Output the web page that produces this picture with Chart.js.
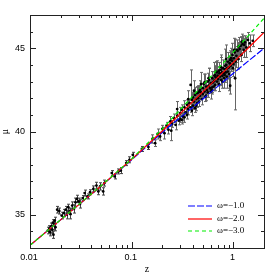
<!DOCTYPE html>
<html>
<head>
<meta charset="utf-8">
<script src="https://cdn.jsdelivr.net/npm/chart.js@4.4.0/dist/chart.umd.min.js"></script>
<style>
  html, body { margin: 0; padding: 0; background: #fff; }
</style>
</head>
<body>
<canvas id="hubble" width="279" height="279"></canvas>
<script>
// model curves
var zModel = [0.01, 0.02, 0.05, 0.1, 0.2, 0.5, 1, 1.5, 2];
var muW1 = [33.16, 34.69, 36.72, 38.30, 39.95, 41.95, 43.50, 44.38, 45.00];
var muW2 = [33.16, 34.69, 36.73, 38.33, 40.03, 42.38, 44.15, 45.20, 45.96];
var muW3 = [33.16, 34.70, 36.74, 38.35, 40.16, 42.78, 44.78, 45.95, 46.80];
var modelLabels = ['\u03c9=\u22121.0', '\u03c9=\u22122.0', '\u03c9=\u22123.0'];

// supernovae: redshift, distance modulus, error
var snZ = [
  0.0150, 0.0155, 0.0158, 0.0162, 0.0165, 0.0168, 0.0170, 0.0172, 0.0175, 0.0178,
  0.0185, 0.0194, 0.0205, 0.0215, 0.0225, 0.0230, 0.0238, 0.0245, 0.0250, 0.0260,
  0.0270, 0.0280, 0.0290, 0.0300, 0.0310, 0.0330, 0.0345, 0.0368, 0.0390, 0.0420,
  0.0450, 0.0470, 0.0489, 0.0524, 0.0540, 0.0637, 0.0680, 0.0741, 0.0780, 0.0884,
  0.0950, 0.1026, 0.1260, 0.1460,
  0.16, 0.17, 0.18, 0.19, 0.20, 0.21, 0.22, 0.23, 0.24, 0.245,
  0.25, 0.26, 0.27, 0.28, 0.29, 0.30, 0.30, 0.31, 0.32, 0.33,
  0.34, 0.35, 0.35, 0.36, 0.38, 0.37, 0.38, 0.39, 0.40, 0.40,
  0.41, 0.42, 0.42, 0.43, 0.44, 0.45, 0.45, 0.46, 0.47, 0.47,
  0.48, 0.49, 0.50, 0.50, 0.51, 0.52, 0.53, 0.54, 0.55, 0.56,
  0.56, 0.57, 0.58, 0.59, 0.60, 0.61, 0.62, 0.63, 0.64, 0.65,
  0.65, 0.66, 0.67, 0.68, 0.69, 0.70, 0.71, 0.72, 0.73, 0.74,
  0.75, 0.76, 0.77, 0.78, 0.79, 0.80, 0.81, 0.82, 0.83, 0.84,
  0.85, 0.86, 0.87, 0.88, 0.90, 0.91, 0.92, 0.93, 0.94, 0.95,
  0.97, 0.98, 1.00, 1.01, 1.03, 1.04, 1.05, 1.07, 1.10, 1.12,
  1.15, 1.18, 1.20, 1.23, 1.26, 1.30, 1.34, 1.39, 1.45, 1.55,
  0.28, 0.33, 0.36, 0.41, 0.43, 0.46, 0.48, 0.52, 0.54, 0.57,
  0.60, 0.62, 0.66, 0.69, 0.72, 0.76, 0.78, 0.82, 0.85, 0.88,
  0.93, 0.99, 1.02, 1.08, 1.13, 1.21, 1.28, 0.31, 0.39, 0.44
];
var snMu = [
  34.05, 34.16, 33.95, 34.30, 34.10, 34.52, 33.80, 34.40, 34.65, 34.25,
  35.30, 35.22, 34.95, 35.10, 35.30, 35.00, 35.45, 35.20, 35.05, 35.55,
  35.35, 35.75, 35.95, 35.80, 35.65, 36.00, 36.30, 36.10, 36.35, 36.55,
  36.75, 36.40, 36.70, 36.40, 36.90, 37.50, 37.30, 37.60, 37.65, 38.10,
  38.30, 38.60, 38.95, 39.07,
  39.55, 39.30, 39.85, 39.70, 40.15, 39.90, 40.35, 40.10, 40.60, 40.05,
  40.45, 40.80, 40.40, 40.95, 40.65, 41.10, 40.75, 41.30, 40.90, 41.45,
  41.15, 41.60, 41.00, 41.35, 42.80, 41.70, 41.45, 41.90, 41.55, 42.05,
  41.80, 41.40, 42.20, 41.95, 41.70, 42.35, 42.00, 41.80, 42.50, 42.15,
  42.35, 41.95, 42.60, 42.25, 42.85, 42.40, 42.10, 42.70, 42.50, 43.00,
  42.35, 42.75, 43.10, 42.60, 42.90, 42.50, 43.20, 42.95, 42.70, 43.35,
  43.05, 42.80, 43.25, 43.60, 43.00, 43.35, 43.15, 42.85, 43.50, 43.30,
  43.70, 43.10, 43.55, 43.35, 43.80, 43.50, 43.20, 43.75, 43.95, 43.55,
  44.00, 43.30, 43.80, 44.20, 43.85, 43.45, 44.10, 42.75, 43.95, 44.40,
  44.25, 44.60, 44.05, 44.40, 44.75, 43.20, 44.20, 44.55, 44.85, 44.35,
  44.95, 45.15, 44.60, 45.25, 44.90, 45.35, 45.05, 45.50, 45.30, 45.45,
  41.35, 40.85, 41.95, 42.45, 41.55, 42.40, 42.85, 42.95, 42.15, 43.20,
  42.40, 42.65, 43.40, 43.55, 43.65, 43.85, 43.00, 43.40, 44.35, 43.60,
  44.30, 43.80, 44.90, 44.90, 45.10, 45.40, 45.20, 40.70, 41.25, 42.30
];
var snErr = [
  0.20, 0.18, 0.22, 0.20, 0.25, 0.18, 0.22, 0.30, 0.20, 0.22,
  0.20, 0.18, 0.20, 0.22, 0.20, 0.25, 0.18, 0.20, 0.30, 0.22,
  0.25, 0.25, 0.22, 0.20, 0.25, 0.15, 0.18, 0.15, 0.15, 0.18,
  0.20, 0.20, 0.22, 0.22, 0.18, 0.15, 0.15, 0.15, 0.18, 0.15,
  0.18, 0.15, 0.15, 0.15,
  0.25, 0.20, 0.30, 0.25, 0.22, 0.35, 0.20, 0.25, 0.30, 0.60,
  0.20, 0.25, 0.30, 0.22, 0.25, 0.35, 0.20, 0.30, 0.25, 0.40,
  0.22, 0.30, 0.25, 0.35, 0.90, 0.25, 0.30, 0.40, 0.22, 0.30,
  0.35, 0.25, 0.45, 0.30, 0.25, 0.40, 0.22, 0.30, 0.55, 0.25,
  0.30, 0.35, 0.30, 0.22, 0.60, 0.25, 0.30, 0.35, 0.25, 0.50,
  0.30, 0.25, 0.70, 0.30, 0.35, 0.25, 0.40, 0.30, 0.25, 0.80,
  0.30, 0.35, 0.30, 0.60, 0.25, 0.35, 0.30, 0.45, 0.40, 0.25,
  0.90, 0.35, 0.30, 0.40, 0.50, 0.25, 0.60, 0.35, 1.00, 0.30,
  0.45, 0.70, 0.35, 0.55, 0.30, 1.00, 0.40, 0.50, 0.35, 0.60,
  0.30, 0.70, 0.35, 0.45, 0.80, 1.90, 0.35, 0.40, 0.50, 0.60,
  0.45, 0.55, 0.40, 0.50, 0.45, 0.40, 0.60, 0.45, 0.50, 0.35,
  0.45, 0.30, 0.50, 0.60, 0.30, 0.35, 0.70, 0.50, 0.30, 0.60,
  0.45, 0.30, 0.55, 0.70, 0.50, 0.60, 0.40, 0.35, 0.85, 0.45,
  0.55, 0.50, 0.70, 0.60, 0.55, 0.45, 0.40, 0.25, 0.30, 0.40
];

var xTickLabels = [0.01, 0.1, 1];
var yTickLabels = [35, 40, 45];

function pairs(xs, ys) {
  return xs.map(function (x, i) { return { x: x, y: ys[i] }; });
}

// error bars under everything
var errorBars = {
  id: 'errorBars',
  beforeDatasetsDraw: function (chart) {
    var ctx = chart.ctx, sx = chart.scales.x, sy = chart.scales.y, a = chart.chartArea;
    ctx.save();
    ctx.beginPath();
    ctx.rect(a.left, a.top, a.right - a.left, a.bottom - a.top);
    ctx.clip();
    ctx.lineWidth = 1;
    for (var i = 0; i < snZ.length; i++) {
      var px = Math.round(sx.getPixelForValue(snZ[i])) + 0.5;
      var y1 = sy.getPixelForValue(snMu[i] - snErr[i]);
      var y2 = sy.getPixelForValue(snMu[i] + snErr[i]);
      ctx.strokeStyle = snZ[i] < 0.15 ? '#444' : '#666';
      ctx.beginPath();
      ctx.moveTo(px, y1); ctx.lineTo(px, y2);
      ctx.moveTo(px - 1.5, y1); ctx.lineTo(px + 1.5, y1);
      ctx.moveTo(px - 1.5, y2); ctx.lineTo(px + 1.5, y2);
      ctx.stroke();
    }
    ctx.restore();
  }
};

// frame, inward ticks on all four sides, tick labels, titles, legend
var frameAndLegend = {
  id: 'frameAndLegend',
  afterDraw: function (chart) {
    var ctx = chart.ctx, sx = chart.scales.x, sy = chart.scales.y, a = chart.chartArea;
    ctx.save();
    ctx.strokeStyle = '#222';
    ctx.lineWidth = 1;
    ctx.strokeRect(a.left + 0.5, a.top + 0.5, a.right - a.left, a.bottom - a.top);

    ctx.beginPath();
    for (var e = -2; e <= 0; e++) {
      for (var m = 1; m <= 9; m++) {
        var v = m * Math.pow(10, e);
        if (v > 2) break;
        var px = Math.round(sx.getPixelForValue(v)) + 0.5;
        var len = m === 1 ? 6 : 3;
        ctx.moveTo(px, a.bottom); ctx.lineTo(px, a.bottom - len);
        ctx.moveTo(px, a.top); ctx.lineTo(px, a.top + len);
      }
    }
    for (var t = 34; t <= 46; t++) {
      var py = Math.round(sy.getPixelForValue(t)) + 0.5;
      var l2 = t % 5 === 0 ? 6 : 3;
      ctx.moveTo(a.left, py); ctx.lineTo(a.left + l2, py);
      ctx.moveTo(a.right, py); ctx.lineTo(a.right - l2, py);
    }
    ctx.stroke();

    // tick labels and axis titles
    ctx.fillStyle = '#000';
    ctx.font = '9px "Liberation Sans"';
    ctx.textBaseline = 'middle';
    ctx.textAlign = 'center';
    xTickLabels.forEach(function (v) {
      ctx.fillText(String(v), sx.getPixelForValue(v) - 1, a.bottom + 10);
    });
    ctx.textAlign = 'right';
    yTickLabels.forEach(function (v) {
      ctx.fillText(String(v), a.left - 5, sy.getPixelForValue(v));
    });
    ctx.font = '10px "Liberation Serif"';
    ctx.textAlign = 'center';
    ctx.fillText('z', (a.left + a.right) / 2, a.bottom + 21);
    ctx.save();
    ctx.translate(5, sy.getPixelForValue(40));
    ctx.rotate(-Math.PI / 2);
    ctx.fillText('\u03bc', 0, 0);
    ctx.restore();

    // legend
    var rows = [a.bottom - 42, a.bottom - 29, a.bottom - 17];
    ctx.font = '9px "Liberation Serif"';
    ctx.textAlign = 'left';
    [0, 1, 2].forEach(function (di, k) {
      var ds = chart.data.datasets[di];
      ctx.strokeStyle = ds.borderColor;
      ctx.lineWidth = 1.2;
      ctx.setLineDash(ds.borderDash || []);
      ctx.beginPath();
      ctx.moveTo(a.right - 76, rows[k]); ctx.lineTo(a.right - 52, rows[k]);
      ctx.stroke();
      ctx.setLineDash([]);
      ctx.fillText(ds.label, a.right - 47, rows[k]);
    });
    ctx.restore();
  }
};

var ctx = document.getElementById('hubble').getContext('2d');
var hubbleChart = new Chart(ctx, {
  type: 'scatter',
  data: {
    datasets: [
      { label: modelLabels[0], data: pairs(zModel, muW1), showLine: true, borderColor: '#0000ff',
        borderDash: [7, 2], borderWidth: 1.2, pointRadius: 0, order: 2 },
      { label: modelLabels[1], data: pairs(zModel, muW2), showLine: true, borderColor: '#ff0000',
        borderWidth: 1.2, pointRadius: 0, order: 1 },
      { label: modelLabels[2], data: pairs(zModel, muW3), showLine: true, borderColor: '#00ee00',
        borderDash: [4, 3], borderWidth: 1.2, pointRadius: 0, order: 0 },
      { label: 'SNe', data: pairs(snZ, snMu), showLine: false, backgroundColor: '#000',
        borderColor: '#000', pointRadius: 1.4, pointBorderWidth: 0, order: 5 }
    ]
  },
  options: {
    responsive: false,
    animation: false,
    layout: { padding: { left: 30, right: 15, top: 15, bottom: 31 } },
    plugins: { legend: { display: false }, tooltip: { enabled: false } },
    scales: {
      x: {
        type: 'logarithmic', min: 0.01, max: 2,
        grid: { display: false }, border: { display: false },
        ticks: { display: false },
        afterFit: function (s) { s.height = 0; }
      },
      y: {
        min: 33, max: 47,
        grid: { display: false }, border: { display: false },
        ticks: { display: false },
        afterFit: function (s) { s.width = 0; }
      }
    }
  },
  plugins: [errorBars, frameAndLegend]
});
</script>
</body>
</html>
